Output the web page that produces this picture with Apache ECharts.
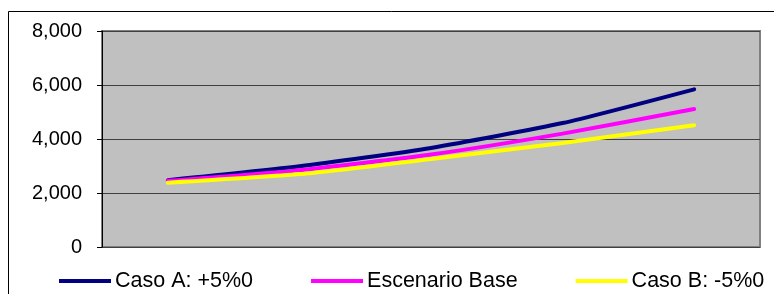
<!DOCTYPE html>
<html>
<head>
<meta charset="utf-8">
<script src="https://cdn.jsdelivr.net/npm/echarts@6/dist/echarts.min.js"></script>
<style>
html,body{margin:0;padding:0;background:#fff;}
#c{width:774px;height:294px;}
</style>
</head>
<body>
<div id="c"></div>
<script>
const categories = ['1', '2', '3', '4', '5'];
const seriesNames = ['Caso A: +5%0', 'Escenario Base', 'Caso B: -5%0'];
const casoA = [2476, 2990, 3670, 4590, 5840];
const base = [2450, 2845, 3425, 4200, 5110];
const casoB = [2380, 2700, 3260, 3855, 4510];
const yTicks = [0, 2000, 4000, 6000, 8000];

const colors = ['#000080', '#FF00FF', '#FFFF00'];
const FONT = '"Liberation Sans", Arial, sans-serif';

function fmt(v) {
  return String(v).replace(/\B(?=(\d{3})+(?!\d))/g, ',');
}

const chart = echarts.init(document.getElementById('c'), null, {renderer: 'canvas'});
const values = [casoA, base, casoB];

chart.setOption({
  animation: false,
  backgroundColor: '#fff',
  graphic: [{
    type: 'rect',
    shape: {x: 8.5, y: 11.5, width: 800, height: 320},
    style: {fill: 'none', stroke: '#000', lineWidth: 1},
    silent: true,
    z: 0
  }],
  grid: {
    left: 102, top: 31, width: 658, height: 216,
    show: true,
    backgroundColor: '#C0C0C0',
    borderColor: '#808080',
    borderWidth: 2
  },
  legend: {
    left: 54, top: 265,
    icon: 'rect',
    itemWidth: 52, itemHeight: 4,
    itemGap: 58,
    textStyle: {fontFamily: FONT, fontSize: 21.5, color: '#000', padding: [0, 0, 0, -1]},
    data: seriesNames
  },
  xAxis: {
    type: 'category',
    data: categories,
    boundaryGap: true,
    axisLine: {show: false},
    axisTick: {show: false},
    axisLabel: {show: false},
    splitLine: {show: false}
  },
  yAxis: {
    type: 'value',
    min: yTicks[0], max: yTicks[yTicks.length - 1], interval: 2000,
    axisLine: {show: true, lineStyle: {color: '#000', width: 1}},
    axisTick: {show: true, inside: false, length: 5, lineStyle: {color: '#000'}},
    axisLabel: {
      margin: 20,
      fontFamily: FONT, fontSize: 20, color: '#000',
      formatter: v => fmt(v)
    },
    splitLine: {show: true, lineStyle: {color: '#404040', width: 1}}
  },
  series: seriesNames.map((n, i) => ({
    name: n,
    type: 'line',
    data: values[i],
    smooth: 0.2,
    showSymbol: false,
    symbol: 'none',
    color: colors[i],
    lineStyle: {color: colors[i], width: 4, cap: 'round'}
  }))
});
</script>
</body>
</html>
